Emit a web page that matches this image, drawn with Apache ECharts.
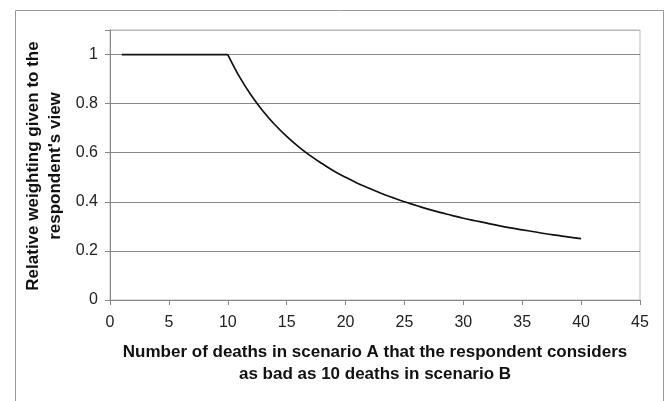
<!DOCTYPE html>
<html>
<head>
<meta charset="utf-8">
<script src="https://cdn.jsdelivr.net/npm/echarts@6/dist/echarts.min.js"></script>
<style>
html,body{margin:0;padding:0;background:#fff;}
#chart{width:667px;height:401px;}
</style>
</head>
<body>
<div id="chart"></div>
<script>
// Number of deaths in scenario A (x) and relative weighting (y)
var deaths = [1,2,3,4,5,6,7,8,9,10,11,12,13,14,15,16,17,18,19,20,21,22,23,24,25,26,27,28,29,30,31,32,33,34,35,36,37,38,39,40];
var weighting = [1,1,1,1,1,1,1,1,1,1,0.909,0.833,0.769,0.714,0.667,0.625,0.588,0.556,0.526,0.5,0.476,0.455,0.435,0.417,0.4,0.385,0.370,0.357,0.345,0.333,0.323,0.313,0.303,0.294,0.286,0.278,0.270,0.263,0.256,0.25];
var xTitle = 'Number of deaths in scenario A that the respondent considers\nas bad as 10 deaths in scenario B';
var yTitle = "Relative weighting given to the\nrespondent's view";

var pts = deaths.map(function(d,i){return [d, weighting[i]];});
var kneeIdx = deaths.indexOf(10);
var flatPts = pts.slice(0, kneeIdx + 1);
var curvePts = pts.slice(kneeIdx);
var chart = echarts.init(document.getElementById('chart'));
var font = 'Arial, "Liberation Sans", sans-serif';
chart.setOption({
  animation:false,
  backgroundColor:'#fff',
  grid:{left:110,right:27,top:30,bottom:101,show:true,borderColor:'#b8b8b8',borderWidth:1},
  xAxis:{
    type:'value',min:0,max:45,interval:5,
    axisLine:{lineStyle:{color:'#888',width:1}},
    axisTick:{show:true,length:5,lineStyle:{color:'#888'}},
    axisLabel:{color:'#222',fontSize:16,fontFamily:font,margin:15},
    splitLine:{show:false},
    name:xTitle,nameLocation:'middle',nameGap:41,
    nameTextStyle:{color:'#111',fontSize:17,fontWeight:'bold',fontFamily:font,lineHeight:22}
  },
  yAxis:{
    type:'value',min:0,max:1.1,interval:0.2,
    axisLine:{show:true,lineStyle:{color:'#888',width:1}},
    axisTick:{show:true,length:5,lineStyle:{color:'#888'}},
    axisLabel:{color:'#222',fontSize:16,fontFamily:font,margin:12,
      formatter:function(v){return Math.abs(v*5-Math.round(v*5))<1e-6 ? String(Math.round(v*10)/10) : '';}},
    splitLine:{show:true,lineStyle:{color:['#888','#888','#888','#888','#888','#888','#b8b8b8'],width:1}}
  },
  graphic:[
    {type:'rect',shape:{x:15.5,y:10.5,width:648,height:420},style:{fill:'none',stroke:'#999',lineWidth:1},silent:true,z:-1},
    {type:'text',x:44,y:166,rotation:Math.PI/2,
     style:{text:yTitle,fill:'#111',font:'bold 17px Arial, "Liberation Sans", sans-serif',textAlign:'center',textVerticalAlign:'middle',lineHeight:22}}
  ],
  series:[
    {type:'line',data:flatPts,showSymbol:false,lineStyle:{color:'#111',width:1.7}},
    {type:'line',data:curvePts,showSymbol:false,smooth:0.4,lineStyle:{color:'#111',width:1.7}}
  ]
});
</script>
</body>
</html>
